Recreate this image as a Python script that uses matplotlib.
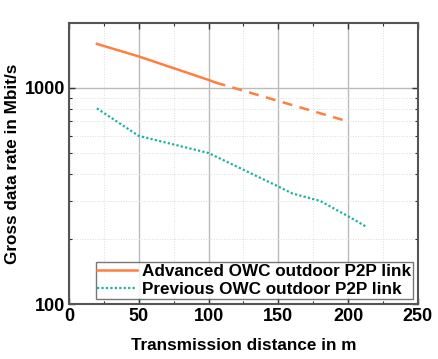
import matplotlib
matplotlib.use("Agg")
import matplotlib.pyplot as plt
from matplotlib.ticker import FixedLocator, NullFormatter, FixedFormatter

adv_solid_x = [20, 50, 100, 105]
adv_solid_y = [1600, 1400, 1090, 1060]
adv_dash_x = [105, 200]
adv_dash_y = [1060, 700]
prev_x = [20, 50, 100, 150, 160, 180, 200, 213]
prev_y = [805, 600, 500, 350, 325, 300, 255, 228]

x_ticks = [0, 50, 100, 150, 200, 250]
y_ticks = [100, 1000]
y_tick_labels = ["100", "1000"]

plt.rcParams['font.family'] = ['Liberation Sans', 'DejaVu Sans']
plt.rcParams['font.weight'] = 'bold'

fig = plt.figure(figsize=(4.38, 3.59), dpi=100)
ax = fig.add_axes([0.1575, 0.1532, 0.7965, 0.7828])

orange = '#FF7F3F'
teal = '#1AB3A0'

ax.plot(adv_solid_x, adv_solid_y, color=orange, lw=1.8, label='Advanced OWC outdoor P2P link')
ax.plot(adv_dash_x, adv_dash_y, color=orange, lw=1.8, ls=(0, (4, 3)))
ax.plot(prev_x, prev_y, color=teal, lw=1.6, ls=(0, (1, 1)), label='Previous OWC outdoor P2P link')

ax.set_yscale('log')
ax.set_xlim(0, 250)
ax.set_ylim(100, 2000)

ax.xaxis.set_major_locator(FixedLocator(x_ticks))
ax.xaxis.set_minor_locator(FixedLocator([25, 75, 125, 175, 225]))
ax.yaxis.set_major_locator(FixedLocator(y_ticks))
ax.yaxis.set_major_formatter(FixedFormatter(y_tick_labels))
ax.yaxis.set_minor_locator(FixedLocator([200, 300, 400, 500, 600, 700, 800, 900]))
ax.yaxis.set_minor_formatter(NullFormatter())

ax.grid(True, which='major', color='#BBBBBB', lw=1.0)
ax.grid(True, which='minor', color='#DDDDDD', lw=0.7, ls=':')
ax.set_axisbelow(True)

ax.tick_params(which='both', direction='in', top=True, right=True, colors='#333333', labelcolor='black')
ax.tick_params(which='major', length=4, width=1, labelsize=13, pad=3)
ax.tick_params(which='minor', length=2.5, width=0.8)
for lab in ax.get_xticklabels() + ax.get_yticklabels():
    lab.set_fontweight('bold')

for s in ax.spines.values():
    s.set_color('#555555')
    s.set_linewidth(1.5)

ax.set_xlabel('Transmission distance in m', fontsize=12.3, fontweight='bold', labelpad=9)
ax.set_ylabel('Gross data rate in Mbit/s', fontsize=12.3, fontweight='bold', labelpad=3)

leg = ax.legend(loc='lower right', fontsize=12.3, frameon=True, fancybox=False,
                edgecolor='#555555', borderpad=0.1, handlelength=2.3, handletextpad=0.3,
                labelspacing=0.2, borderaxespad=0.3)
leg.get_frame().set_linewidth(1.0)
for t in leg.get_texts():
    t.set_fontweight('bold')

fig.savefig('out.png', dpi=100)
